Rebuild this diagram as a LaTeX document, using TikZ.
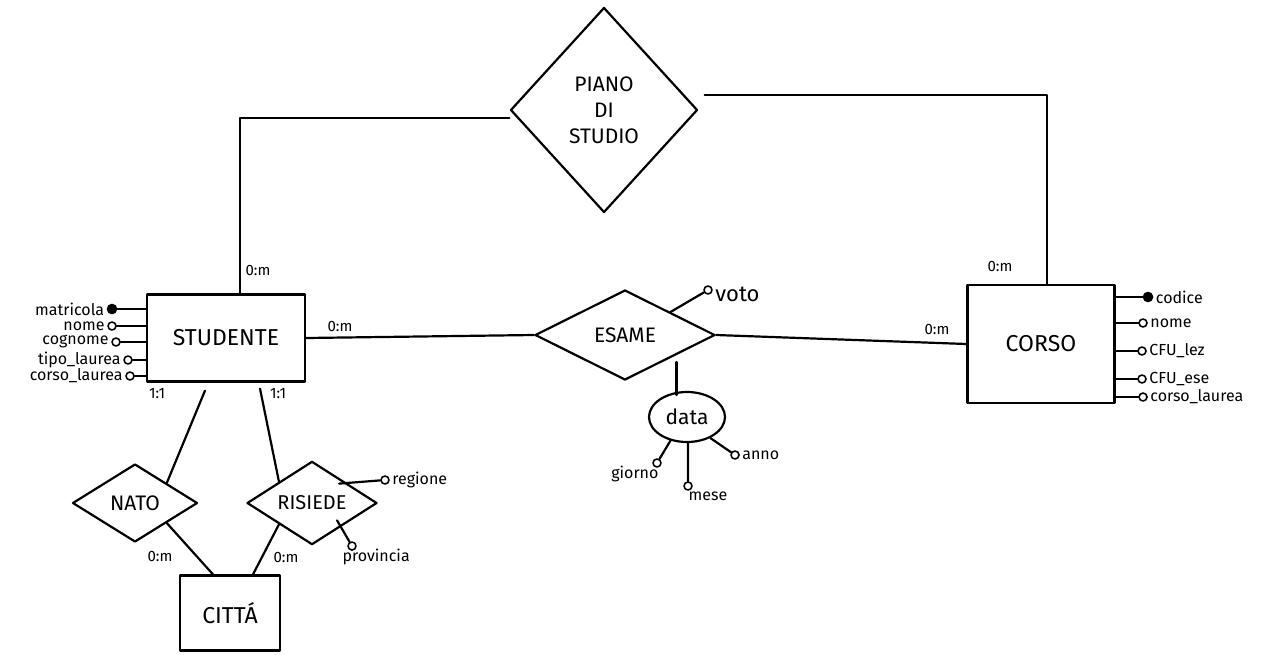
\documentclass[tikz,border=0pt]{standalone}
\usepackage{fontspec}
\setmainfont{Fira Sans}
\usetikzlibrary{shapes.geometric}
\tikzset{
  every path/.style={line width=2.2pt, line cap=round, line join=round},
  entity/.style={draw, rectangle, inner sep=0pt, font=\fontsize{23}{24}\selectfont},
  rel/.style={draw, diamond, inner sep=0pt, font=\fontsize{21}{24}\selectfont},
  keyattr/.style={circle, draw, fill=black, inner sep=0pt, minimum size=9pt, line width=1.6pt},
  attr/.style={circle, draw, fill=white, inner sep=0pt, minimum size=8pt, line width=1.6pt},
  attrlabel/.style={font=\fontsize{16}{17}\selectfont, inner sep=1.5pt},
  card/.style={font=\fontsize{15}{16}\selectfont, inner sep=0pt}
}
\begin{document}
\begin{tikzpicture}[x=1pt,y=-1pt]
\useasboundingbox (0,0) rectangle (1276,654);
% entities
\node[entity, minimum width=158pt, minimum height=87pt] (stud) at (226,338) {STUDENTE};
\node[entity, minimum width=147pt, minimum height=118pt] (corso) at (1041,344) {CORSO};
\node[entity, minimum width=100pt, minimum height=75pt] (citta) at (230,613) {CITTÁ};
% relationships
\node[rel, minimum width=187pt, minimum height=205pt, align=center] (piano) at (604,110) {PIANO\\[2pt]DI\\[2pt]STUDIO};
\node[rel, minimum width=180pt, minimum height=90pt] (esame) at (625,335) {ESAME};
\node[rel, minimum width=125pt, minimum height=78pt] (nato) at (135,503) {NATO};
\node[rel, minimum width=130pt, minimum height=77pt, font=\fontsize{20}{22}\selectfont] (risiede) at (312,503) {RISIEDE};
% connectors
\draw ([xshift=14pt]stud.north) |- ([yshift=-8pt]piano.west);
\draw ([xshift=6pt,yshift=15pt]piano.east) -| ([xshift=6pt]corso.north);
\draw (stud.east) -- (esame.west);
\draw (esame.east) -- (corso.west);
\draw ([xshift=-21pt,yshift=-8pt]stud.south) -- (nato.north east);
\draw ([xshift=34pt,yshift=-6pt]stud.south) -- (risiede.north west);
\draw (nato.south east) -- ([xshift=-17pt]citta.north);
\draw (risiede.south west) -- ([xshift=23pt]citta.north);
% cardinalities
\node[card] (c1) at (258,270) {0:m};
\node[card] (c2) at (340,326) {0:m};
\node[card] (c3) at (1000,266) {0:m};
\node[card] (c4) at (937,329) {0:m};
\node[card] (c5) at (157,394) {1:1};
\node[card] (c6) at (278,394) {1:1};
\node[card] (c7) at (160,556) {0:m};
\node[card] (c8) at (286,557) {0:m};
% STUDENTE attributes
\node[keyattr] (sa1) at (112,309) {};
\node[attr] (sa2) at (112,326) {};
\node[attr] (sa3) at (116,342) {};
\node[attr] (sa4) at (128,360) {};
\node[attr] (sa5) at (130,376) {};
\foreach \a in {sa1,sa2,sa3,sa4,sa5} \draw (stud.west |- \a) -- (\a);
\node[attrlabel, anchor=east] (sl1) at (sa1.west) {matricola};
\node[attrlabel, anchor=east] (sl2) at (sa2.west) {nome};
\node[attrlabel, anchor=east] (sl3) at (sa3.west) {cognome};
\node[attrlabel, anchor=east] (sl4) at (sa4.west) {tipo\_laurea};
\node[attrlabel, anchor=east] (sl5) at (sa5.west) {corso\_laurea};
% CORSO attributes
\node[keyattr] (ca1) at (1148,297) {};
\node[attr] (ca2) at (1143,323) {};
\node[attr] (ca3) at (1142,351) {};
\node[attr] (ca4) at (1142,379) {};
\node[attr] (ca5) at (1143,397) {};
\foreach \a in {ca1,ca2,ca3,ca4,ca5} \draw (corso.east |- \a) -- (\a);
\node[attrlabel, anchor=west] (cl1) at (ca1.east) {codice};
\node[attrlabel, anchor=west] (cl2) at (ca2.east) {nome};
\node[attrlabel, anchor=west] (cl3) at (ca3.east) {CFU\_lez};
\node[attrlabel, anchor=west] (cl4) at (ca4.east) {CFU\_ese};
\node[attrlabel, anchor=west] (cl5) at (ca5.east) {corso\_laurea};
% ESAME attributes
\node[attr] (voto) at (708,290) {};
\draw (esame.north east) -- (voto);
\node[attrlabel, anchor=west, font=\fontsize{22}{24}\selectfont] (votol) at ([yshift=-4pt]voto.east) {voto};
\node[draw, ellipse, minimum width=76pt, minimum height=50pt, inner xsep=-8pt, inner ysep=0pt, font=\fontsize{21}{22}\selectfont] (data) at (687,417) {data};
\draw ([xshift=6pt,yshift=-4pt]esame.south east) -- ([xshift=6pt,yshift=-4pt]esame.south east |- data.north);
\node[attr] (giorno) at (657,463) {};
\node[attr] (mese) at (688,486) {};
\node[attr] (anno) at (735,455) {};
\draw (data.235) -- (giorno);
\draw (data.272) -- (mese);
\draw (data.318) -- (anno);
\node[attrlabel, anchor=north east] (gl) at ([xshift=4pt,yshift=4pt]giorno.south) {giorno};
\node[attrlabel, anchor=north] (ml) at ([xshift=20pt,yshift=2pt]mese.south) {mese};
\node[attrlabel, anchor=west] (al) at (anno.east) {anno};
% RISIEDE attributes
\node[attr] (reg) at (385,480) {};
\draw ([xshift=-6pt,yshift=-2pt]risiede.north east) -- (reg);
\node[attrlabel, anchor=west] (regl) at (reg.east) {regione};
\node[attr] (prov) at (352,546) {};
\draw ([xshift=-8pt,yshift=4pt]risiede.south east) -- (prov);
\node[attrlabel, anchor=north west] (provl) at ([xshift=-12pt,yshift=4pt]prov.south) {provincia};
\end{tikzpicture}
\end{document}
